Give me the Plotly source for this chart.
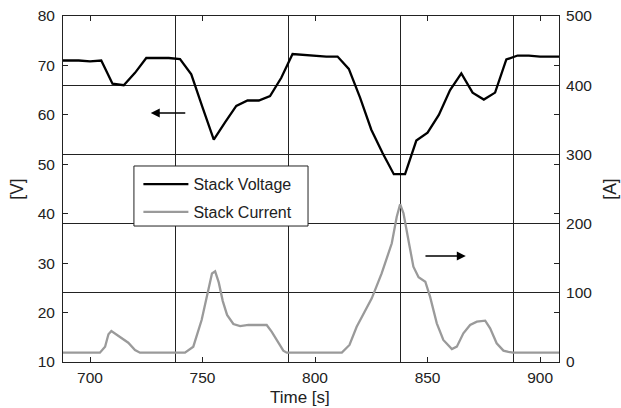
import plotly.graph_objects as go

# Stack voltage, sampled every 5 s
volt_t = [685, 690, 695, 700, 705, 710, 715, 720, 725, 730, 735, 740, 745, 750,
          755, 760, 765, 770, 775, 780, 785, 790, 795, 800, 805, 810, 815, 820,
          825, 830, 835, 840, 845, 850, 855, 860, 865, 870, 875, 880, 885, 890,
          895, 900, 905, 910]
volt_v = [71.0, 71.0, 71.0, 70.8, 71.0, 66.3, 66.0, 68.5, 71.5, 71.5, 71.5, 71.3,
          68.2, 61.5, 55.0, 58.5, 61.8, 62.9, 62.9, 63.8, 67.5, 72.3, 72.1, 71.9,
          71.8, 71.8, 69.3, 63.5, 57.0, 52.3, 48.0, 48.0, 54.8, 56.4, 60.0, 65.0,
          68.4, 64.5, 63.1, 64.5, 71.2, 72.0, 72.0, 71.8, 71.8, 71.8]

# Stack current
curr_t = [685, 704.4, 706.7, 708.2, 709.5, 711.1, 714.8, 717.0, 720.0, 722.2,
          742.2, 745.9, 749.6, 752.6, 754.2, 755.6, 757.2, 759.0, 760.9, 763.7,
          766.7, 770.4, 778.5, 780.7, 783.7, 785.9, 787.4, 811.9, 815.3, 818.5,
          825.2, 829.6, 834.1, 836.3, 837.8, 839.3, 841.5, 843.7, 846.0, 849.0,
          851.1, 854.1, 857.0, 860.8, 863.0, 865.9, 868.9, 871.9, 875.6, 877.8,
          880.7, 883.7, 885.9, 888.0, 910]
curr_a = [13.5, 13.5, 22, 40, 44.8, 41.4, 32.8, 27.9, 17.3, 13.5,
          13.5, 22.1, 60.7, 104, 128, 131, 115, 88, 68, 54.9,
          52, 53.5, 53.5, 43.8, 27, 16.4, 13.5, 13.5, 24.6, 51,
          92, 128, 171.5, 210, 228, 215, 176, 137.7, 122.4, 116,
          94.4, 55.9, 31.8, 18.8, 22.2, 41.4, 53.5, 58.3, 59.7, 48.6,
          27, 16.4, 14.5, 13.5, 13.5]

x_range = [688, 908.4]
x_ticks = [700, 750, 800, 850, 900]
v_ticks = [10, 20, 30, 40, 50, 60, 70, 80]
a_ticks = [0, 100, 200, 300, 400, 500]

FONT = "Liberation Sans, Arial, sans-serif"
INK = "#222222"
TICK_FONT = dict(family=FONT, size=15.5, color=INK)
TITLE_FONT = dict(family=FONT, size=17.5, color=INK)

fig = go.Figure()
fig.add_trace(go.Scatter(
    x=volt_t, y=volt_v, mode="lines", name="Stack Voltage",
    line=dict(color="black", width=2.3), xaxis="x", yaxis="y",
    legendgroup="v"))
fig.add_trace(go.Scatter(
    x=curr_t, y=curr_a, mode="lines", name="Stack Current",
    line=dict(color="#9a9a9a", width=2.3), xaxis="x2", yaxis="y2",
    legendgroup="a"))

axis_common = dict(showline=True, linecolor=INK, linewidth=1, zeroline=False,
                   automargin=False, tickfont=TICK_FONT)

fig.update_layout(
    width=621, height=408,
    margin=dict(l=63, r=62, t=16, b=46, autoexpand=False),
    paper_bgcolor="white", plot_bgcolor="white",
    font=dict(family=FONT, size=15, color=INK),
    xaxis=dict(range=x_range, tickvals=x_ticks, ticks="inside", ticklen=5,
               tickcolor=INK, mirror="ticks", showgrid=False,
               ticklabelstandoff=1, **axis_common),
    yaxis=dict(range=[10, 80], tickvals=v_ticks, ticks="inside", ticklen=5,
               tickcolor=INK, mirror="ticks", showgrid=False,
               ticklabelstandoff=4,
               title=dict(text="[V]", standoff=9, font=TITLE_FONT),
               **axis_common),
    xaxis2=dict(range=x_range, overlaying="x", anchor="y2", tick0=688, dtick=50,
                showticklabels=False, ticks="", showgrid=True, automargin=False,
                gridcolor=INK, gridwidth=1, showline=False, zeroline=False),
    yaxis2=dict(range=[0, 500], tickvals=a_ticks, overlaying="y", side="right",
                anchor="x", ticks="", showgrid=True, gridcolor=INK, gridwidth=1,
                ticklabelstandoff=3,
                title=dict(text="[A]", standoff=12, font=TITLE_FONT),
                **axis_common),
    legend=dict(x=0.152, y=0.563, xanchor="left", yanchor="top",
                bgcolor="rgba(0,0,0,0)", borderwidth=0, itemwidth=45,
                font=dict(family=FONT, size=16, color=INK),
                tracegroupgap=4, traceorder="grouped"),
    showlegend=True,
)

# Time axis title
fig.add_annotation(text="Time [s]", xref="paper", yref="paper",
                   x=0.478, y=-0.102, xanchor="center", yanchor="middle",
                   showarrow=False, borderpad=0,
                   font=dict(family=FONT, size=17, color=INK))

# Legend frame
fig.add_shape(type="rect", xref="paper", yref="paper",
              x0=0.143, x1=0.494, y0=0.393, y1=0.5665,
              line=dict(color=INK, width=1), fillcolor="white", layer="above")

# Direction arrows pointing to each trace's axis
fig.add_annotation(x=727, y=60.4, ax=743, ay=60.4, xref="x", yref="y",
                   axref="x", ayref="y", showarrow=True, arrowhead=2,
                   arrowsize=1.2, arrowwidth=1.5, arrowcolor="black", text="")
fig.add_annotation(x=867, y=153, ax=848.4, ay=153, xref="x2", yref="y2",
                   axref="x2", ayref="y2", showarrow=True, arrowhead=2,
                   arrowsize=1.2, arrowwidth=1.5, arrowcolor="black", text="")

fig.write_html("out.html")
